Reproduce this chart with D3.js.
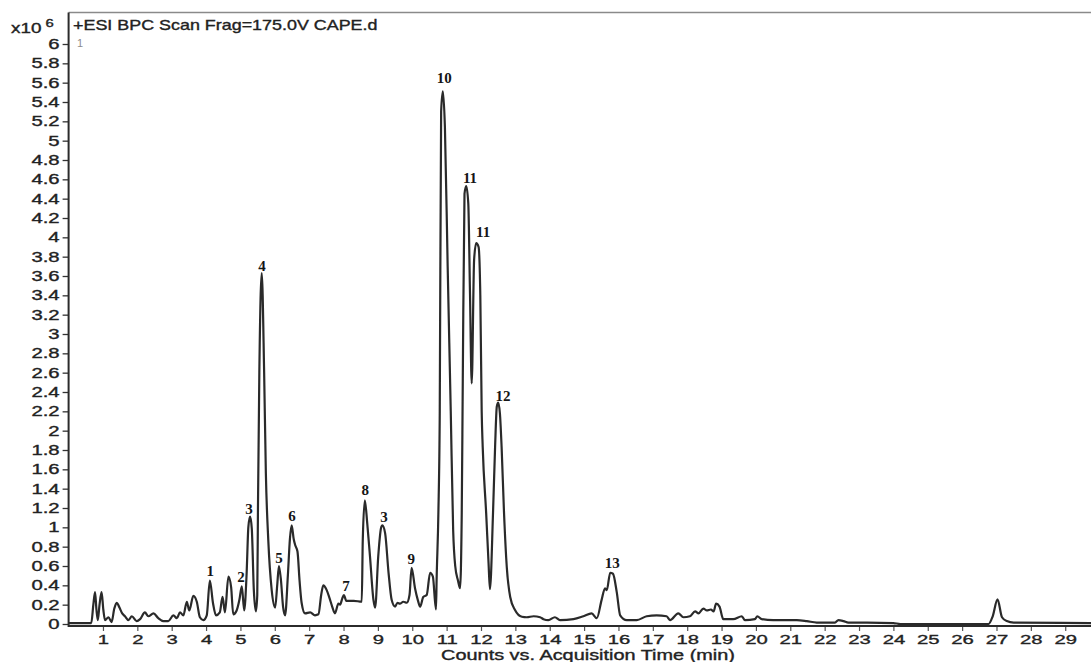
<!DOCTYPE html>
<html>
<head>
<meta charset="utf-8">
<script src="https://cdn.jsdelivr.net/npm/d3@7"></script>
<style>
  html, body { margin: 0; padding: 0; background: #fff; }
  svg { display: block; }
</style>
</head>
<body>
<svg id="chart" width="1091" height="662"></svg>
<script>
// Base peak chromatogram, +ESI BPC scan (Frag = 175.0 V), sample CAPE.d
// Acquisition time in minutes
const retentionTime = [
  0.00, 0.66, 0.72, 0.77, 0.81, 0.85, 0.90, 0.96, 1.01, 1.06, 1.16, 1.25, 1.33, 1.40, 1.48,
  1.56, 1.64, 1.74, 1.84, 1.98, 2.08, 2.22, 2.32, 2.47, 2.61, 2.76, 2.90, 3.05, 3.15, 3.24,
  3.34, 3.44, 3.51, 3.63, 3.73, 3.82, 3.92, 4.02, 4.11, 4.20, 4.29, 4.40, 4.48, 4.55, 4.65,
  4.73, 4.79, 4.89, 4.97, 5.04, 5.11, 5.18, 5.23, 5.28, 5.33, 5.39, 5.45, 5.49, 5.51, 5.55,
  5.62, 5.69, 5.74, 5.81, 5.91, 6.01, 6.07, 6.12, 6.18, 6.24, 6.30, 6.38, 6.44, 6.49, 6.55,
  6.59, 6.66, 6.72, 6.78, 6.88, 7.03, 7.17, 7.27, 7.35, 7.41, 7.51, 7.59, 7.67, 7.75, 7.85,
  7.90, 7.96, 8.01, 8.08, 8.30, 8.53, 8.56, 8.62, 8.69, 8.77, 8.87, 8.92, 9.01, 9.09, 9.13,
  9.21, 9.31, 9.40, 9.50, 9.57, 9.64, 9.74, 9.84, 9.92, 9.98, 10.08, 10.16, 10.23, 10.32, 10.42,
  10.52, 10.60, 10.69, 10.71, 10.76, 10.80, 10.84, 10.89, 10.95, 11.03, 11.12, 11.19, 11.25, 11.33, 11.39,
  11.44, 11.47, 11.52, 11.57, 11.63, 11.68, 11.73, 11.80, 11.86, 11.93, 11.98, 12.02, 12.05, 12.15, 12.22,
  12.26, 12.35, 12.41, 12.46, 12.50, 12.55, 12.60, 12.67, 12.75, 12.85, 12.99, 13.19, 13.33, 13.53, 13.72,
  13.82, 13.96, 14.15, 14.30, 14.69, 14.98, 15.22, 15.37, 15.51, 15.61, 15.66, 15.76, 15.84, 15.95, 16.05,
  16.24, 16.53, 16.82, 17.11, 17.40, 17.50, 17.74, 17.89, 18.08, 18.23, 18.33, 18.47, 18.57, 18.69, 18.77,
  18.84, 18.94, 19.05, 19.34, 19.59, 19.68, 19.97, 20.04, 20.17, 20.50, 21.19, 21.48, 21.77, 22.30, 22.40,
  22.55, 22.69, 23.23, 24.00, 24.20, 26.77, 26.89, 27.03, 27.16, 27.30, 27.50, 29.75
];
// Base peak intensity, counts x10^6
const counts = [
  0.01, 0.01, 0.20, 0.33, 0.15, 0.04, 0.20, 0.33, 0.15, 0.04, 0.07, 0.02, 0.16, 0.22, 0.17,
  0.11, 0.08, 0.04, 0.08, 0.03, 0.05, 0.12, 0.08, 0.11, 0.06, 0.03, 0.03, 0.09, 0.06, 0.12,
  0.09, 0.23, 0.14, 0.29, 0.23, 0.07, 0.04, 0.09, 0.45, 0.22, 0.09, 0.12, 0.28, 0.12, 0.49,
  0.38, 0.10, 0.14, 0.25, 0.39, 0.14, 0.52, 1.00, 1.11, 0.99, 0.35, 0.13, 0.30, 1.20, 2.60,
  3.63, 2.60, 1.56, 0.87, 0.35, 0.17, 0.40, 0.60, 0.45, 0.18, 0.09, 0.50, 0.88, 1.02, 0.88,
  0.82, 0.75, 0.45, 0.22, 0.11, 0.12, 0.09, 0.10, 0.30, 0.40, 0.35, 0.27, 0.18, 0.11, 0.21,
  0.20, 0.26, 0.30, 0.24, 0.24, 0.23, 0.87, 1.28, 1.04, 0.70, 0.25, 0.17, 0.70, 0.99, 1.02,
  0.94, 0.53, 0.25, 0.18, 0.22, 0.21, 0.23, 0.22, 0.30, 0.58, 0.37, 0.25, 0.18, 0.28, 0.30,
  0.53, 0.49, 0.15, 0.48, 1.15, 2.20, 5.30, 5.51, 5.14, 3.70, 2.20, 0.97, 0.60, 0.45, 0.37,
  1.15, 2.52, 4.45, 4.53, 4.35, 3.42, 2.49, 3.77, 3.94, 3.90, 3.40, 2.20, 1.83, 1.15, 0.63,
  0.36, 1.15, 1.83, 2.25, 2.29, 2.18, 1.83, 1.15, 0.59, 0.28, 0.145, 0.075, 0.07, 0.08, 0.07,
  0.05, 0.04, 0.07, 0.04, 0.05, 0.08, 0.11, 0.06, 0.25, 0.37, 0.35, 0.53, 0.52, 0.33, 0.09,
  0.04, 0.04, 0.08, 0.09, 0.08, 0.04, 0.11, 0.07, 0.08, 0.13, 0.11, 0.16, 0.14, 0.15, 0.13,
  0.21, 0.18, 0.05, 0.05, 0.08, 0.04, 0.05, 0.08, 0.05, 0.04, 0.04, 0.03, 0.015, 0.015, 0.04,
  0.03, 0.015, 0.015, 0.01, 0.00, 0.00, 0.08, 0.255, 0.07, 0.03, 0.015, 0.01
];

// Compound numbers annotated above the peaks, with their anchor (time, counts x10^6)
const peakNames  = ["1", "2", "3", "4", "5", "6", "7", "8", "3", "9", "10", "11", "11", "12", "13"];
const peakTimes  = [4.12, 5.02, 5.25, 5.63, 6.12, 6.50, 8.07, 8.63, 9.18, 9.97, 10.93, 11.68, 12.06, 12.64, 15.82];
const peakCounts = [0.50, 0.43, 1.14, 3.65, 0.63, 1.07, 0.34, 1.33, 1.06, 0.62, 5.60, 4.56, 4.00, 2.31, 0.58];

const xTicks = d3.range(1, 30);          // 1 .. 29 min
const yTicks = d3.range(0, 31).map(i => i * 0.2); // 0 .. 6 (x10^6)

const title = "+ESI BPC Scan Frag=175.0V CAPE.d";
const xTitle = "Counts vs. Acquisition Time (min)";

const svg = d3.select("#chart");
const W = 1091, H = 662;
const plotLeft = 68.6, plotRight = 1091, plotTop = 12.5, plotBottom = 626;

svg.append("rect").attr("width", W).attr("height", H).attr("fill", "#fff");

const x = d3.scaleLinear().domain([0, 29.75]).range([plotLeft, plotRight]);
const y = d3.scaleLinear().domain([0, 6]).range([624, 44]);

const sansFont = "'Liberation Sans', Arial, sans-serif";
const inkColor = "#222";
const stretch = 1.45; // wide instrument-software lettering

// slightly heavier lettering than the plain regular weight
function heavy(sel) {
  return sel.attr("stroke", inkColor).attr("stroke-width", 0.35).attr("fill", inkColor);
}

// frame: top border
svg.append("line")
  .attr("x1", plotLeft).attr("x2", plotRight).attr("y1", plotTop).attr("y2", plotTop)
  .attr("stroke", "#8a8a8a").attr("stroke-width", 1.6);

// y axis
const yAxis = svg.append("g")
  .attr("transform", `translate(${plotLeft},0)`)
  .call(d3.axisLeft(y).tickValues(yTicks).tickSize(6).tickPadding(8)
    .tickFormat(d => String(+d.toFixed(1))));
yAxis.select(".domain").remove();
yAxis.selectAll(".tick line").attr("stroke", "#333").attr("stroke-width", 1.3);
yAxis.selectAll(".tick text")
  .attr("font-family", sansFont).attr("font-size", 14)
  .attr("x", -9 / stretch)
  .attr("transform", `scale(${stretch},1)`)
  .call(heavy);
svg.append("line")
  .attr("x1", plotLeft).attr("x2", plotLeft).attr("y1", plotTop).attr("y2", plotBottom + 1)
  .attr("stroke", "#2b2b2b").attr("stroke-width", 2);

// x axis
const xAxis = svg.append("g")
  .attr("transform", `translate(0,${plotBottom})`)
  .call(d3.axisBottom(x).tickValues(xTicks).tickSize(5).tickPadding(3)
    .tickFormat(d3.format("d")));
xAxis.select(".domain").remove();
xAxis.selectAll(".tick line").attr("stroke", "#555").attr("stroke-width", 1.2);
xAxis.selectAll(".tick text")
  .attr("font-family", sansFont).attr("font-size", 13.5)
  .attr("transform", `scale(${stretch + 0.05},1)`)
  .call(heavy);
svg.append("line")
  .attr("x1", plotLeft).attr("x2", plotRight).attr("y1", plotBottom).attr("y2", plotBottom)
  .attr("stroke", "#2b2b2b").attr("stroke-width", 2);

// chromatogram trace
const points = retentionTime.map((t, i) => [t, counts[i]]);
svg.append("path")
  .datum(points)
  .attr("fill", "none")
  .attr("stroke", "#2a2a2a")
  .attr("stroke-width", 2.2)
  .attr("stroke-linejoin", "round")
  .attr("d", d3.line().x(d => x(d[0])).y(d => y(d[1])).curve(d3.curveMonotoneX));

// peak numbers
svg.append("g").selectAll("text")
  .data(peakNames)
  .join("text")
  .attr("x", (d, i) => x(peakTimes[i]))
  .attr("y", (d, i) => y(peakCounts[i]))
  .attr("text-anchor", "middle")
  .attr("font-family", "'Liberation Serif', 'Times New Roman', serif")
  .attr("font-weight", "bold")
  .attr("font-size", 15)
  .attr("fill", "#151515")
  .text(d => d);

// header texts
svg.append("text")
  .attr("transform", `translate(73,30) scale(1.28,1)`)
  .attr("font-family", sansFont).attr("font-size", 14)
  .call(heavy)
  .text(title);

const mult = svg.append("text")
  .attr("transform", `translate(11,33) scale(1.35,1)`)
  .attr("font-family", sansFont).attr("font-size", 14)
  .call(heavy);
mult.append("tspan").text("x10");
mult.append("tspan").attr("dx", 3).attr("dy", -6).attr("font-size", 11).text("6");

svg.append("text")
  .attr("x", 77).attr("y", 47)
  .attr("font-family", sansFont).attr("font-size", 11).attr("fill", "#8c8c8c")
  .text("1");

// x axis title
svg.append("text")
  .attr("transform", `translate(588,659.5) scale(1.42,1)`)
  .attr("text-anchor", "middle")
  .attr("font-family", sansFont).attr("font-size", 14)
  .call(heavy)
  .text(xTitle);
</script>
</body>
</html>
